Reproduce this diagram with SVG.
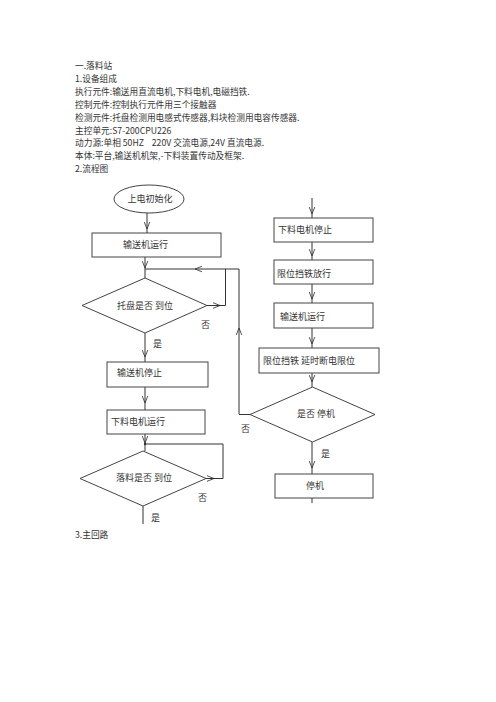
<svg xmlns="http://www.w3.org/2000/svg" width="496" height="702" viewBox="0 0 496 702">
<style>
.t{font-family:"Noto Sans CJK SC","Noto Sans",sans-serif;font-size:8.7px;fill:#333;white-space:pre}
.f{font-family:"Noto Sans CJK SC","Noto Sans",sans-serif;font-size:9px;fill:#333}
.n{fill:#fff;stroke:#444;stroke-width:1}
.c{fill:none;stroke:#333;stroke-width:1}
</style>
<defs>
<marker id="v" viewBox="0 0 10 10" refX="10" refY="5" markerUnits="userSpaceOnUse" markerWidth="7" markerHeight="7" orient="auto">
<path d="M0,1 L10,5 L0,9" fill="none" stroke="#333" stroke-width="1.2"/>
</marker>
</defs>
<rect width="496" height="702" fill="#fff"/>
<g id="text-block">
<text class="t" x="75" y="68.5">一.落料站</text>
<text class="t" x="75" y="81.5">1.设备组成</text>
<text class="t" x="75" y="94.5">执行元件:输送用直流电机,下料电机,电磁挡铁.</text>
<text class="t" x="75" y="107.5">控制元件:控制执行元件用三个接触器</text>
<text class="t" x="75" y="120.5">检测元件:托盘检测用电感式传感器,料块检测用电容传感器.</text>
<text class="t" x="75" y="133.5">主控单元:S7-200CPU226</text>
<text class="t" x="75" y="146">动力源:单相 50HZ    220V 交流电源,24V 直流电源.</text>
<text class="t" x="75" y="158.5">本体:平台,输送机机架,-下料装置传动及框架.</text>
<text class="t" x="75" y="171.5">2.流程图</text>
<text class="t" x="75" y="538">3.主回路</text>
</g>
<g id="connectors">
<path class="c" d="M147,213 V229" marker-end="url(#v)"/>
<path class="c" d="M147,229 V233"/>
<path class="c" d="M145,257 V268" marker-end="url(#v)"/>
<path class="c" d="M145,268 V278"/>
<path class="c" d="M207,305.5 H220" marker-end="url(#v)"/>
<path class="c" d="M220,305.5 H225.5 V269"/>
<path class="c" d="M239,414 V328" marker-end="url(#v)"/>
<path class="c" d="M239,328 V269 H195" marker-end="url(#v)"/>
<path class="c" d="M195,269 H145"/>
<path class="c" d="M145,333 V357" marker-end="url(#v)"/>
<path class="c" d="M145,357 V362"/>
<path class="c" d="M145,387 V403" marker-end="url(#v)"/>
<path class="c" d="M145,403 V410"/>
<path class="c" d="M145,434 V443" marker-end="url(#v)"/>
<path class="c" d="M145,443 V451"/>
<circle cx="145" cy="444" r="1.2" fill="#333"/>
<path class="c" d="M206,478.5 H214" marker-end="url(#v)"/>
<path class="c" d="M214,478.5 H223 V444 H145"/>
<path class="c" d="M143,506 V524"/>
<path class="c" d="M312,198 V214" marker-end="url(#v)"/>
<path class="c" d="M312,214 V218"/>
<path class="c" d="M312,242 V256" marker-end="url(#v)"/>
<path class="c" d="M312,256 V260"/>
<path class="c" d="M312,284 V299" marker-end="url(#v)"/>
<path class="c" d="M312,299 V303"/>
<path class="c" d="M312,328 V344" marker-end="url(#v)"/>
<path class="c" d="M312,344 V348"/>
<path class="c" d="M312,373 V382" marker-end="url(#v)"/>
<path class="c" d="M312,382 V387"/>
<path class="c" d="M312,442 V468" marker-end="url(#v)"/>
<path class="c" d="M312,468 V474"/>
<path class="c" d="M312,498 V503"/>
<path class="c" d="M250,414.5 H239"/>
</g>
<g id="start">
<ellipse class="n" cx="149" cy="199" rx="35" ry="14"/>
<text class="f" x="150" y="202" text-anchor="middle">上电初始化</text>
</g>
<g id="conveyor-run-1">
<rect class="n" x="92" y="233" width="129" height="24"/>
<text class="f" x="123" y="248">输送机运行</text>
</g>
<g id="tray-check">
<polygon class="n" points="145,278 207,305.5 145,333 82,305.5"/>
<text class="f" x="117" y="308.5">托盘是否 到位</text>
</g>
<text class="f" x="201" y="328">否</text>
<text class="f" x="153" y="347">是</text>
<g id="conveyor-stop">
<rect class="n" x="107" y="362" width="101" height="25"/>
<text class="f" x="117" y="376">输送机停止</text>
</g>
<g id="feed-motor-run">
<rect class="n" x="107" y="410" width="98" height="24"/>
<text class="f" x="111" y="424.5">下料电机运行</text>
</g>
<g id="drop-check">
<polygon class="n" points="143,451 206,478.5 143,506 80,478.5"/>
<text class="f" x="116" y="481">落料是否 到位</text>
</g>
<text class="f" x="198" y="501">否</text>
<text class="f" x="151" y="521">是</text>
<g id="feed-motor-stop">
<rect class="n" x="274" y="218" width="99" height="24"/>
<text class="f" x="278" y="232.5">下料电机停止</text>
</g>
<g id="stopper-release">
<rect class="n" x="274" y="260" width="99" height="24"/>
<text class="f" x="277" y="276.5">限位挡铁放行</text>
</g>
<g id="conveyor-run-2">
<rect class="n" x="274" y="303" width="99" height="25"/>
<text class="f" x="280" y="319.5">输送机运行</text>
</g>
<g id="stopper-delay">
<rect class="n" x="259" y="348" width="120" height="25"/>
<text class="f" x="263" y="363.5">限位挡铁 延时断电限位</text>
</g>
<g id="stop-check">
<polygon class="n" points="312.5,387 375,414.5 312.5,442 250,414.5"/>
<text class="f" x="297" y="416.5">是否 停机</text>
</g>
<text class="f" x="241" y="432">否</text>
<text class="f" x="321" y="457">是</text>
<g id="halt">
<rect class="n" x="275" y="474" width="98" height="24"/>
<text class="f" x="306" y="488.5">停机</text>
</g>
</svg>
